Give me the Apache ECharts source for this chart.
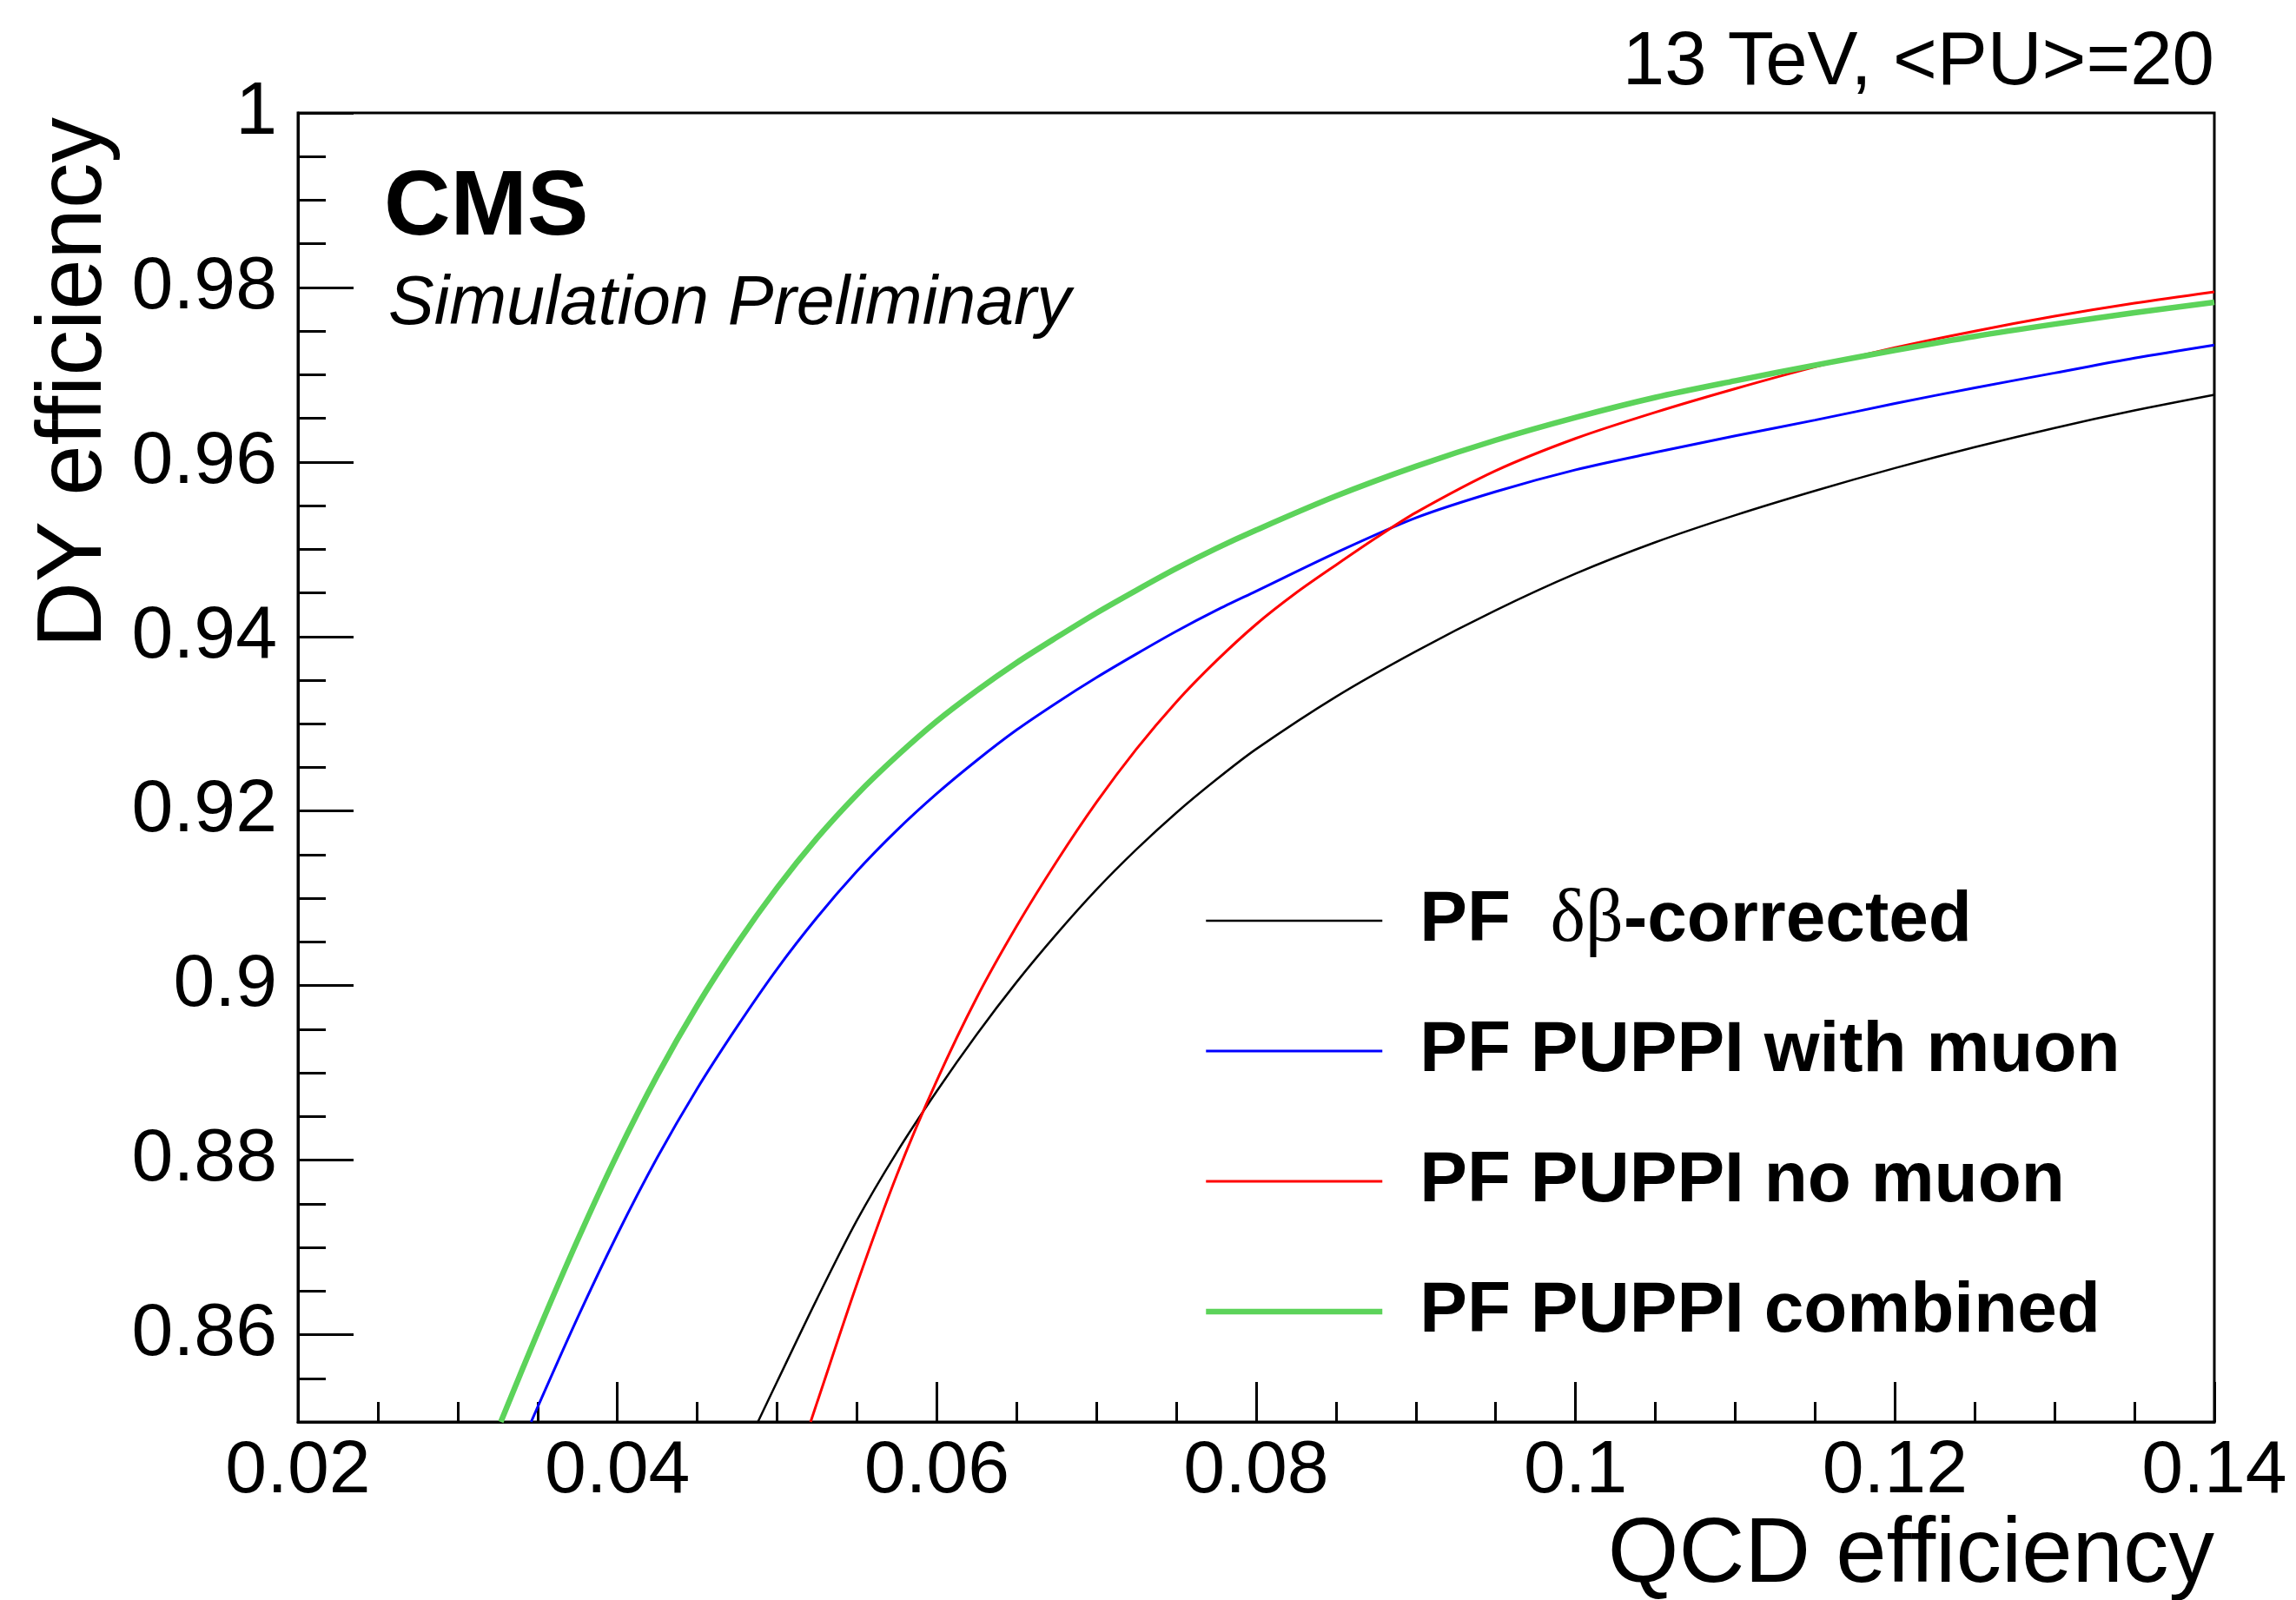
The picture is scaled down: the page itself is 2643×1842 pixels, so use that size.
<!DOCTYPE html>
<html>
<head>
<meta charset="utf-8">
<script src="https://cdn.jsdelivr.net/npm/echarts@6/dist/echarts.min.js"></script>
<style>
html,body{margin:0;padding:0;background:#fff;}
#chart{width:2643px;height:1842px;}
</style>
</head>
<body>
<div id="chart"></div>
<script>
// ---- data ----
const seriesNames = ['PF \u03b4\u03b2-corrected', 'PF PUPPI with muon', 'PF PUPPI no muon', 'PF PUPPI combined'];

const qcdPF = [0.0488,0.050,0.0525,0.055,0.0575,0.060,0.0625,0.065,0.0675,0.070,0.0725,0.075,0.0775,0.080,0.085,0.090,0.095,0.100,0.105,0.110,0.115,0.120,0.125,0.130,0.135,0.140];
const dyPF  = [0.850,0.8546,0.8641,0.8731,0.8809,0.8879,0.8944,0.9004,0.9059,0.9110,0.9156,0.9198,0.9236,0.9271,0.9331,0.9383,0.9430,0.9472,0.9508,0.9539,0.9567,0.9593,0.9617,0.9639,0.9659,0.9677];

const qcdWithMuon = [0.0346,0.0375,0.040,0.0425,0.045,0.0475,0.050,0.0525,0.055,0.0575,0.060,0.0625,0.065,0.0675,0.070,0.0725,0.075,0.0775,0.080,0.085,0.090,0.095,0.100,0.105,0.110,0.115,0.120,0.125,0.130,0.135,0.140];
const dyWithMuon  = [0.850,0.8619,0.8715,0.8803,0.8882,0.8953,0.9019,0.9078,0.9131,0.9178,0.9220,0.9258,0.9293,0.9324,0.9353,0.9380,0.9406,0.9430,0.9452,0.9496,0.9536,0.9566,0.9591,0.9611,0.9630,0.9648,0.9667,0.9685,0.9702,0.9719,0.9734];

const qcdNoMuon = [0.0521,0.0525,0.055,0.0575,0.060,0.0625,0.065,0.0675,0.070,0.0725,0.075,0.0775,0.080,0.0825,0.085,0.0875,0.090,0.095,0.100,0.105,0.110,0.115,0.120,0.125,0.130,0.135,0.140];
const dyNoMuon  = [0.850,0.8522,0.8658,0.8783,0.8891,0.8986,0.9068,0.9142,0.9210,0.9271,0.9325,0.9372,0.9414,0.9450,0.9482,0.9513,0.9542,0.9590,0.9627,0.9657,0.9684,0.9709,0.9731,0.9750,0.9767,0.9782,0.9795];

const qcdCombined = [0.0327,0.035,0.0375,0.040,0.0425,0.045,0.0475,0.050,0.0525,0.055,0.0575,0.060,0.0625,0.065,0.0675,0.070,0.0725,0.075,0.0775,0.080,0.085,0.090,0.095,0.100,0.105,0.110,0.115,0.120,0.125,0.130,0.135,0.140];
const dyCombined  = [0.850,0.8602,0.8708,0.8807,0.8897,0.8977,0.9048,0.9112,0.9169,0.9219,0.9263,0.9303,0.9338,0.9370,0.9399,0.9427,0.9453,0.9478,0.9501,0.9522,0.9561,0.9595,0.9625,0.9651,0.9674,0.9693,0.9711,0.9728,0.9744,0.9758,0.9771,0.9783];

// axis ticks
const xMajorTicks = [0.02,0.04,0.06,0.08,0.10,0.12,0.14];
const xMajorLabels = ['0.02','0.04','0.06','0.08','0.1','0.12','0.14'];
const xMinorTicks = [0.025,0.03,0.035,0.045,0.05,0.055,0.065,0.07,0.075,0.085,0.09,0.095,0.105,0.11,0.115,0.125,0.13,0.135];
const yMajorTicks = [0.86,0.88,0.90,0.92,0.94,0.96,0.98,1.0];
const yMajorLabels = ['0.86','0.88','0.9','0.92','0.94','0.96','0.98','1'];
const yMinorTicks = [0.855,0.865,0.87,0.875,0.885,0.89,0.895,0.905,0.91,0.915,0.925,0.93,0.935,0.945,0.95,0.955,0.965,0.97,0.975,0.985,0.99,0.995];

// ---- chart ----
const zip = (xs, ys) => xs.map((x, i) => [x, ys[i]]);
const FONT = "'Liberation Sans', Arial, Helvetica, sans-serif";
const findLabel = (vals, labels, v) => {
  for (let i = 0; i < vals.length; i++) if (Math.abs(vals[i] - v) < 1e-9) return labels[i];
  return '';
};

const chart = echarts.init(document.getElementById('chart'), null, {renderer: 'canvas'});

const lineStyles = [
  {color: '#000000', width: 2.5},
  {color: '#0000ff', width: 3},
  {color: '#ff0000', width: 3},
  {color: '#5cd35a', width: 6.5}
];
const dataSets = [zip(qcdPF, dyPF), zip(qcdWithMuon, dyWithMuon), zip(qcdNoMuon, dyNoMuon), zip(qcdCombined, dyCombined)];

const option = {
  animation: false,
  backgroundColor: '#ffffff',
  grid: {left: 343, top: 130, right: 94, bottom: 205, show: true, borderColor: '#000', borderWidth: 3, backgroundColor: 'transparent'},
  xAxis: [
    {
      type: 'value', min: 0.02, max: 0.14, position: 'bottom',
      axisLine: {show: true, onZero: false, lineStyle: {color: '#000', width: 3}},
      axisTick: {show: true, inside: true, length: 46, customValues: xMajorTicks, lineStyle: {color: '#000', width: 3}},
      axisLabel: {show: true, customValues: xMajorTicks, margin: 14, color: '#000', fontFamily: FONT, fontSize: 86,
        showMinLabel: true, showMaxLabel: true,
        formatter: v => findLabel(xMajorTicks, xMajorLabels, v)},
      splitLine: {show: false}
    },
    {
      type: 'value', min: 0.02, max: 0.14, position: 'bottom', gridIndex: 0,
      axisLine: {show: false, onZero: false},
      axisTick: {show: true, inside: true, length: 23, customValues: xMinorTicks, lineStyle: {color: '#000', width: 3}},
      axisLabel: {show: false},
      splitLine: {show: false}
    }
  ],
  yAxis: [
    {
      type: 'value', min: 0.85, max: 1.0, position: 'left',
      axisLine: {show: true, onZero: false, lineStyle: {color: '#000', width: 3}},
      axisTick: {show: true, inside: true, length: 64, customValues: yMajorTicks, lineStyle: {color: '#000', width: 3}},
      axisLabel: {show: true, customValues: yMajorTicks, margin: 24, color: '#000', fontFamily: FONT, fontSize: 86,
        showMinLabel: true, showMaxLabel: true,
        formatter: v => findLabel(yMajorTicks, yMajorLabels, v)},
      splitLine: {show: false}
    },
    {
      type: 'value', min: 0.85, max: 1.0, position: 'left', gridIndex: 0,
      axisLine: {show: false, onZero: false},
      axisTick: {show: true, inside: true, length: 32, customValues: yMinorTicks, lineStyle: {color: '#000', width: 3}},
      axisLabel: {show: false},
      splitLine: {show: false}
    }
  ],
  legend: {
    orient: 'vertical', left: 1385, top: 1015, padding: 0,
    itemWidth: 203, itemHeight: 20, itemGap: 60,
    selectedMode: false,
    itemStyle: {opacity: 0},
    lineStyle: {width: 'inherit'},
    data: seriesNames,
    textStyle: {
      color: '#000', fontFamily: FONT, fontWeight: 'bold', fontSize: 82, lineHeight: 90,
      padding: [0, 0, 0, 38],
      rich: {
        b: {color: '#000', fontFamily: FONT, fontWeight: 'bold', fontSize: 82, lineHeight: 90},
        g: {color: '#000', fontFamily: "'Liberation Serif', 'DejaVu Serif', serif", fontWeight: 'normal', fontSize: 86, lineHeight: 90}
      }
    },
    formatter: name => name === seriesNames[0]
      ? '{b|PF  }{g|\u03b4\u03b2}{b|-corrected}'
      : '{b|' + name + '}'
  },
  series: seriesNames.map((n, i) => ({
    name: n, type: 'line', data: dataSets[i],
    xAxisIndex: 0, yAxisIndex: 0,
    showSymbol: false, symbol: 'none',
    smooth: 0.3,
    clip: true,
    lineStyle: lineStyles[i], itemStyle: {color: lineStyles[i].color},
    emphasis: {disabled: true}, z: 2 + i
  })),
  graphic: [
    {type: 'text', right: 94, top: 30, style: {text: '13 TeV, <PU>=20', font: "normal 87px " + FONT, fill: '#000'}},
    {type: 'text', left: 442, top: 188, style: {text: 'CMS', font: "bold 106px " + FONT, fill: '#000'}},
    {type: 'text', left: 447, top: 312, style: {text: 'Simulation Preliminary', font: "italic 79px " + FONT, fill: '#000'}},
    {type: 'text', right: 94, top: 1740, style: {text: 'QCD efficiency', font: "normal 105px " + FONT, fill: '#000'}},
    {type: 'text', x: 140, y: 135, rotation: Math.PI / 2,
      style: {text: 'DY efficiency', font: "normal 105px " + FONT, fill: '#000', align: 'right', verticalAlign: 'bottom'}}
  ]
};
chart.setOption(option);
</script>
</body>
</html>
